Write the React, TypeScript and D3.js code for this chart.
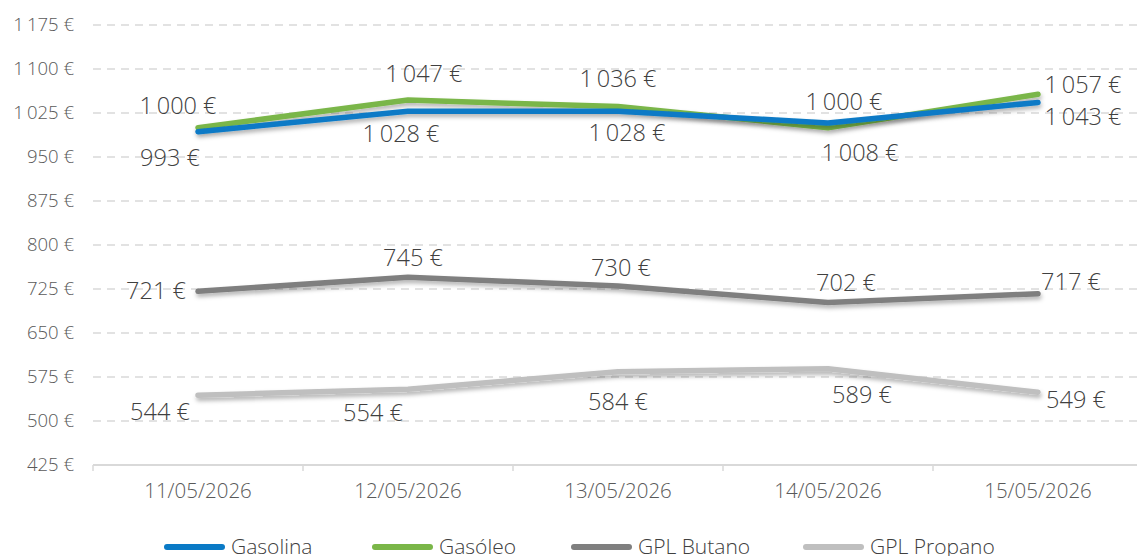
import React from "react";
import * as d3 from "d3";

const categories = ["11/05/2026", "12/05/2026", "13/05/2026", "14/05/2026", "15/05/2026"];
const gasolina = [993, 1028, 1028, 1008, 1043];
const gasoleo = [1000, 1047, 1036, 1000, 1057];
const butano = [721, 745, 730, 702, 717];
const propano = [544, 554, 584, 589, 549];
const yTicks = [425, 500, 575, 650, 725, 800, 875, 950, 1025, 1100, 1175];

// label nudges (relative to point) per series
const nudgeGasoleo: [number, number][] = [[-20, -22], [16, -26], [0, -28], [16, -26], [45, -9]];
const nudgeGasolina: [number, number][] = [[-28, 26], [-7, 23], [9, 22], [32, 30], [45, 14]];
const nudgeButano: [number, number][] = [[-42, -1], [5, -19], [3, -18], [18, -20], [33, -12]];
const nudgePropano: [number, number][] = [[-38, 17], [-35, 23], [0, 30], [34, 26], [38, 8]];

const series = [
  { name: "GPL Propano", values: propano, color: "#bfbfbf", nudge: nudgePropano },
  { name: "GPL Butano", values: butano, color: "#7f7f7f", nudge: nudgeButano },
  { name: "Gasóleo", values: gasoleo, color: "#7ab648", nudge: nudgeGasoleo },
  { name: "Gasolina", values: gasolina, color: "#0a7ac6", nudge: nudgeGasolina },
];
const legendOrder = ["Gasolina", "Gasóleo", "GPL Butano", "GPL Propano"];
const legendX = [167, 375, 574, 806];

const fmt = (v: number) => {
  const s = String(v);
  return (s.length > 3 ? s.slice(0, s.length - 3) + "\u2009" + s.slice(-3) : s) + " €";
};

export default function App() {
  const W = 1137, H = 556;
  const x = d3.scaleBand<string>().domain(categories).range([93, 1143]);
  const y = d3.scaleLinear().domain([425, 1175]).range([465, 25]);
  const cx = (c: string) => (x(c) as number) + x.bandwidth() / 2;
  const font = "'Open Sans', Lato, sans-serif";
  const textColor = "#404040";

  return (
    <svg width={W} height={H} style={{ position: "absolute", left: 0, top: 0, background: "#fff" }} fontFamily={font} fontWeight={300}>
      <defs>
        <filter id="sh" x="-10%" y="-50%" width="120%" height="200%">
          <feDropShadow dx="1" dy="3" stdDeviation="2" floodColor="#000" floodOpacity="0.3" />
        </filter>
      </defs>
      {yTicks.map((t) => (
        <g key={t}>
          {t !== 425 && (
            <line x1={93} x2={W} y1={y(t)} y2={y(t)} stroke="#d9d9d9" strokeWidth={1.5} strokeDasharray="8,6" />
          )}
          <text x={74} y={y(t)} dy="0.35em" textAnchor="end" fontSize={18.5} fill="#595959">{fmt(t)}</text>
        </g>
      ))}
      <line x1={93} x2={W} y1={y(425)} y2={y(425)} stroke="#d9d9d9" strokeWidth={2} />
      {categories.map((c) => (
        <g key={c}>
          <line x1={x(c) as number} x2={x(c) as number} y1={y(425)} y2={y(425) + 6} stroke="#d9d9d9" strokeWidth={1.5} />
          <text x={cx(c)} y={491} dy="0.35em" textAnchor="middle" fontSize={20.5} fill="#595959">{c}</text>
        </g>
      ))}
      {series.map((s) => {
        const line = d3.line<number>().x((_, i) => cx(categories[i])).y((v) => y(v));
        return (
          <path key={s.name} d={line(s.values) || ""} fill="none" stroke={s.color} strokeWidth={5.5}
            strokeLinecap="round" strokeLinejoin="round" filter="url(#sh)" />
        );
      })}
      {series.map((s) =>
        s.values.map((v, i) => (
          <text key={s.name + i} x={cx(categories[i]) + s.nudge[i][0]} y={y(v) + s.nudge[i][1]} dy="0.35em"
            textAnchor="middle" fontSize={23.5} fill={textColor}>{fmt(v)}</text>
        ))
      )}
      {legendOrder.map((n, i) => {
        const s = series.find((d) => d.name === n)!;
        return (
          <g key={n}>
            <line x1={legendX[i]} x2={legendX[i] + 55} y1={547} y2={547} stroke={s.color} strokeWidth={6} strokeLinecap="round" />
            <text x={legendX[i] + 64} y={547} dy="0.35em" fontSize={21} fill={textColor}>{n}</text>
          </g>
        );
      })}
    </svg>
  );
}
